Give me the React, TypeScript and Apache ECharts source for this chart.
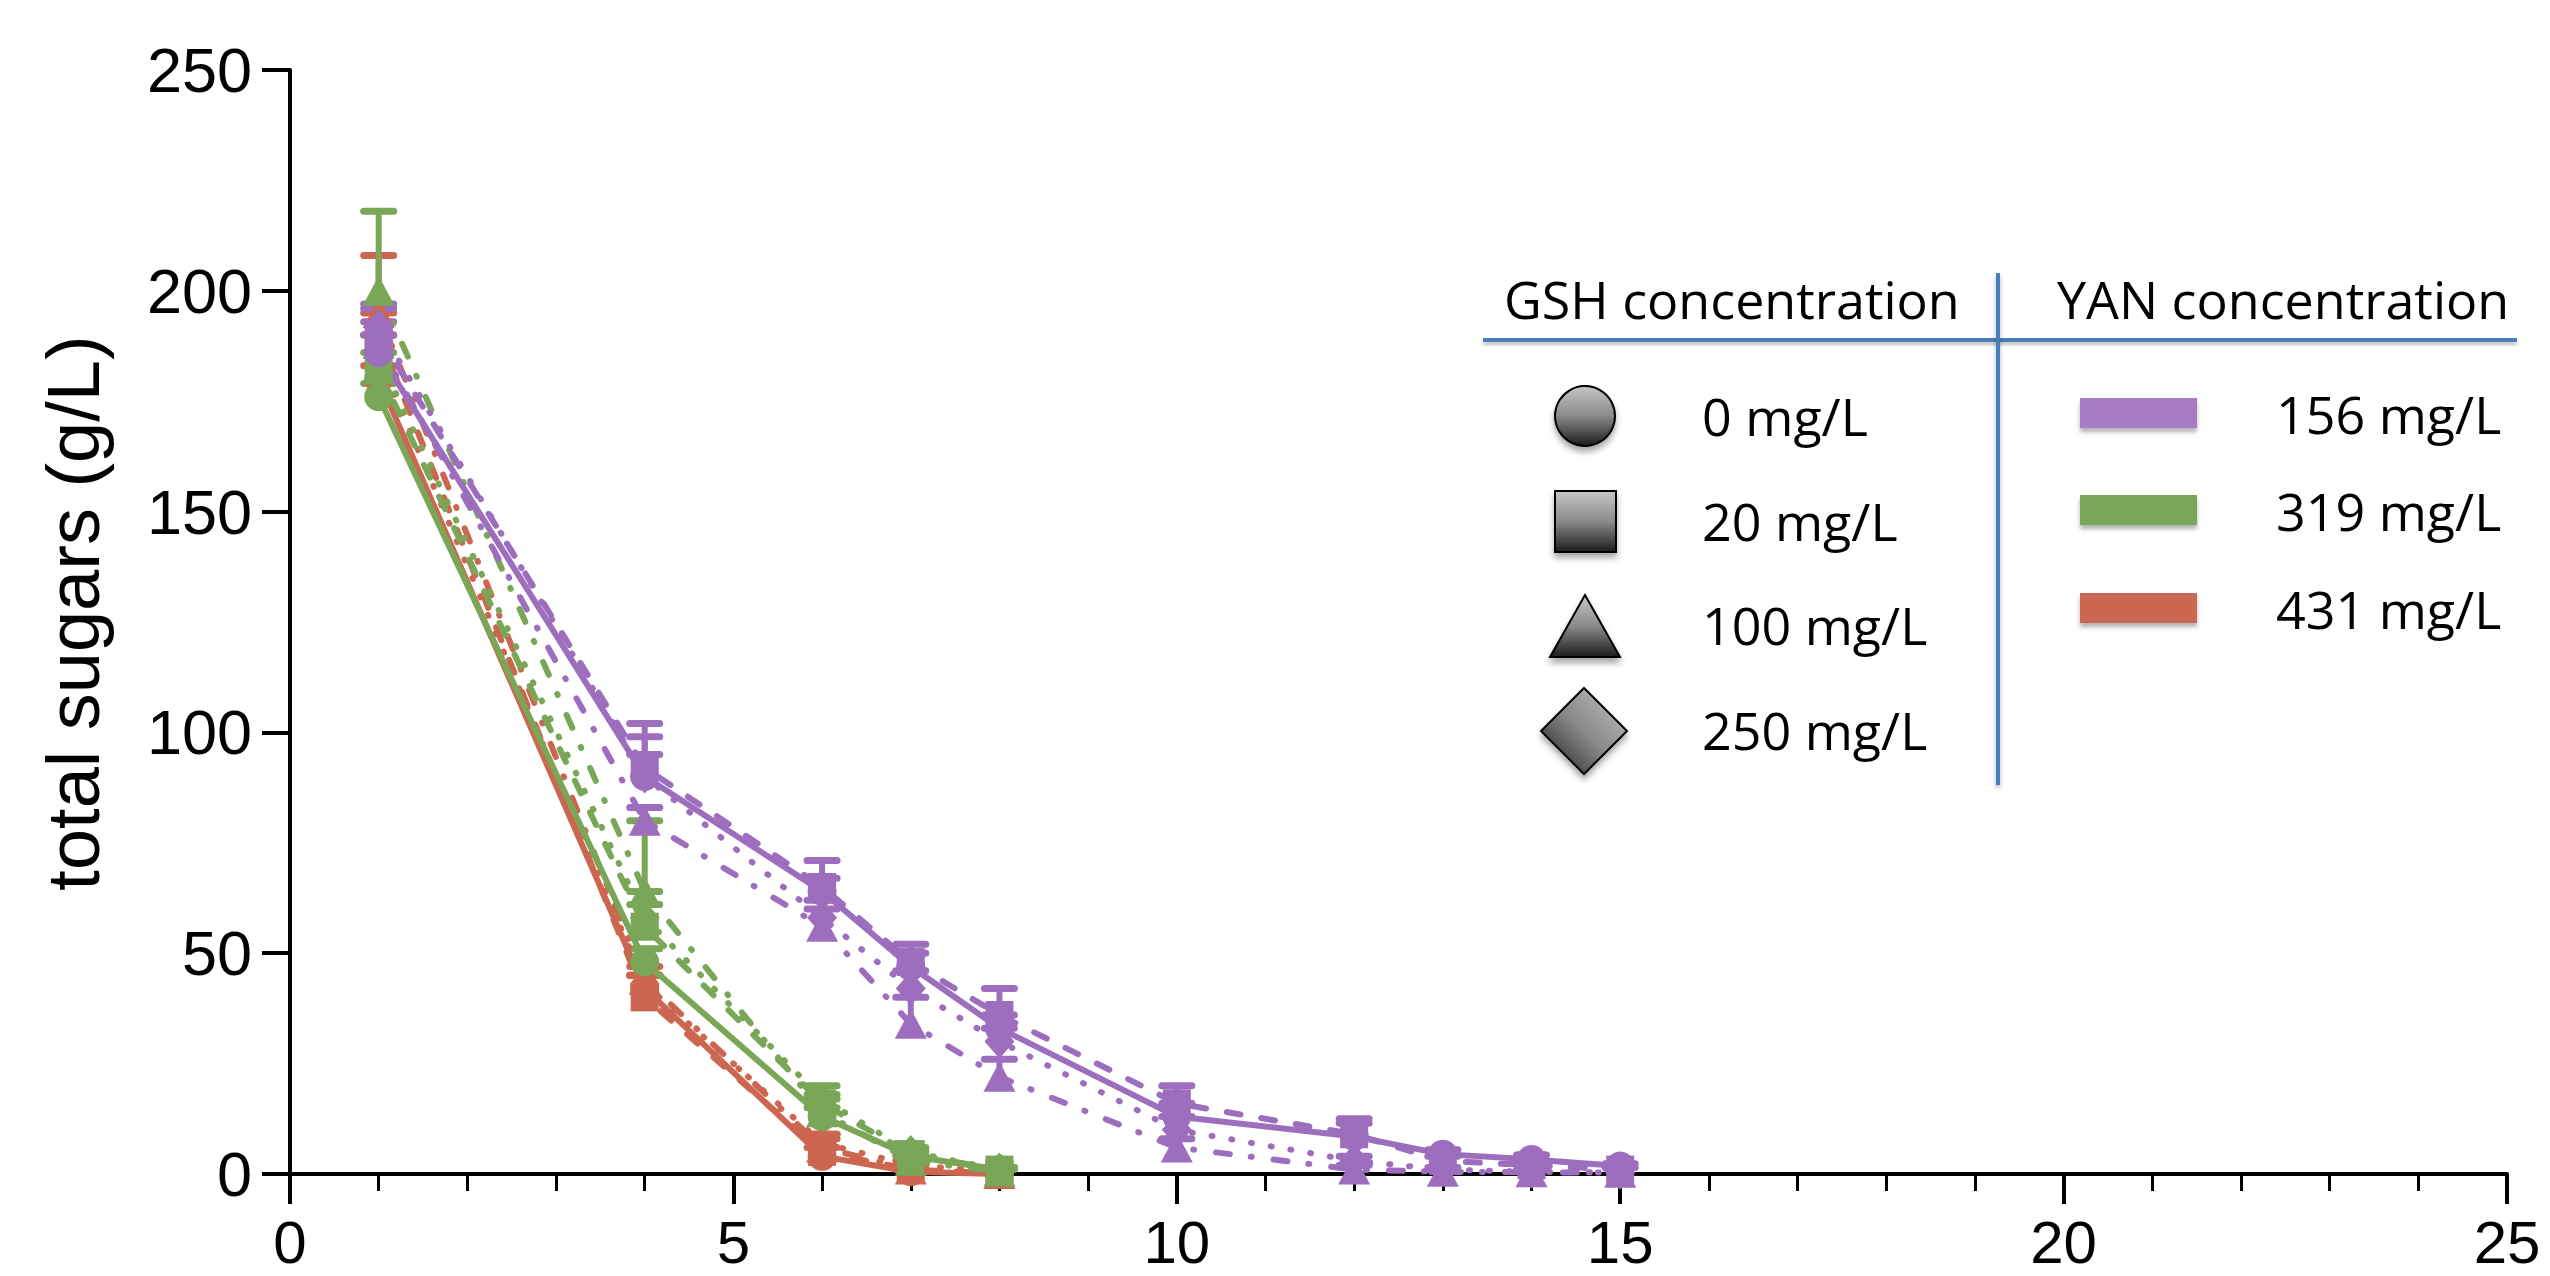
import React, { useEffect, useRef } from "react";
import * as echarts from "echarts";

// ---------- data ----------
const daysLong = [1, 4, 6, 7, 8, 10, 12, 13, 14, 15];
const daysShort = [1, 4, 6, 7, 8];

// YAN 156 mg/L (purple)
const p156_gsh0 = [186, 90, 64, 47, 33, 13, 8.5, 4.5, 3.3, 1.8];
const p156_gsh20 = [190, 92, 65, 48, 36, 16, 9, 3, 2, 1];
const p156_gsh100 = [188, 80, 56, 34, 22, 6, 1, 0.5, 0.4, 0.3];
const p156_gsh250 = [192, 90, 58, 42, 30, 10, 3, 1, 0.5, 0.3];
const e156_gsh0 = [4, 9, 3, 3, 3, 3, 3, 1, 1, 0.5];
const e156_gsh20 = [6, 10, 6, 4, 6, 4, 3.5, 1, 1, 0.5];
const e156_gsh100 = [5, 3, 4, 6, 4, 2, 1, 0.5, 0, 0];
const e156_gsh250 = [5, 5, 4, 4, 3, 3, 1, 0.5, 0.5, 0];

// YAN 319 mg/L (green)
const g319_gsh0 = [176, 48, 13, 4, 1];
const g319_gsh20 = [182, 56, 16, 4.5, 1];
const g319_gsh100 = [200, 64, 14, 3, 0.5];
const g319_gsh250 = [185, 58, 17, 5, 1];
const e319_gsh0 = [3, 3, 2, 1, 0.5];
const e319_gsh20 = [4, 5, 2, 1, 0.5];
const e319_gsh100 = [18, 16, 3, 1, 0.5];
const e319_gsh250 = [5, 6, 3, 1, 0.5];

// YAN 431 mg/L (red)
const r431_gsh0 = [180, 42, 4, 0.5, 0];
const r431_gsh20 = [190, 40, 5, 1, 0];
const r431_gsh100 = [195, 44, 6, 1, 0];
const r431_gsh250 = [185, 43, 7, 2, 0.5];
const e431_gsh0 = [3, 3, 2, 0.5, 0];
const e431_gsh20 = [5, 5, 3, 1, 0];
const e431_gsh100 = [13, 3, 3, 1, 0];
const e431_gsh250 = [5, 2, 2, 1, 0];

const gshLabels = ["0 mg/L", "20 mg/L", "100 mg/L", "250 mg/L"];
const yanLabels = ["156 mg/L", "319 mg/L", "431 mg/L"];
const xTicks = [0, 5, 10, 15, 20, 25];
const yTicks = [0, 50, 100, 150, 200, 250];

// ---------- styles ----------
const PURPLE = "#9D6EBE";
const GREEN = "#79A657";
const RED = "#CC6650";
const LEG_PURPLE = "#A67DC4";
const LEG_GREEN = "#7AA659";
const LEG_RED = "#CC6851";
const BLUE = "#4A7EBB";

const symbols = ["circle", "rect", "triangle", "diamond"];
const symbolSizes: any[] = [29, 28, [32, 30], [30, 34]];
const dashes: any[] = ["solid", [14, 21], [14, 21, 1, 22], [1, 19]];

const groups = [
  { color: RED, days: daysShort, values: [r431_gsh0, r431_gsh20, r431_gsh100, r431_gsh250], errs: [e431_gsh0, e431_gsh20, e431_gsh100, e431_gsh250], yan: yanLabels[2] },
  { color: GREEN, days: daysShort, values: [g319_gsh0, g319_gsh20, g319_gsh100, g319_gsh250], errs: [e319_gsh0, e319_gsh20, e319_gsh100, e319_gsh250], yan: yanLabels[1] },
  { color: PURPLE, days: daysLong, values: [p156_gsh0, p156_gsh20, p156_gsh100, p156_gsh250], errs: [e156_gsh0, e156_gsh20, e156_gsh100, e156_gsh250], yan: yanLabels[0] },
];

function buildSeries() {
  const series: any[] = [];
  groups.forEach((g) => {
    g.values.forEach((vals, k) => {
      const errData = g.days.map((d, i) => [d, vals[i], g.errs[k][i]]);
      series.push({
        type: "custom",
        name: `${g.yan} err ${gshLabels[k]}`,
        data: errData,
        encode: { x: 0, y: 1 },
        silent: true,
        renderItem: (params: any, api: any) => {
          const x = api.value(0);
          const y = api.value(1);
          const e = api.value(2);
          if (!e) return null;
          const base = api.coord([x, y]);
          const top = api.coord([x, y + e]);
          const hw = 15;
          return {
            type: "group",
            children: [
              { type: "line", shape: { x1: base[0], y1: base[1], x2: top[0], y2: top[1] }, style: { stroke: g.color, lineWidth: 6 } },
              { type: "line", shape: { x1: top[0] - hw, y1: top[1], x2: top[0] + hw, y2: top[1] }, style: { stroke: g.color, lineWidth: 7, lineCap: "round" } },
            ],
          };
        },
      });
      series.push({
        type: "line",
        name: `${g.yan} ${gshLabels[k]}`,
        data: g.days.map((d, i) => [d, vals[i]]),
        symbol: symbols[k],
        symbolSize: symbolSizes[k],
        showSymbol: true,
        itemStyle: { color: g.color, opacity: 1 },
        lineStyle: { color: g.color, width: 6, type: dashes[k], cap: "round" },
        silent: true,
      });
    });
  });
  return series;
}

const LEG_FONT = "'Open Sans', 'Noto Sans', sans-serif";

function buildGraphics() {
  const grad = () =>
    new echarts.graphic.LinearGradient(0, 0, 0, 1, [
      { offset: 0, color: "#c6c6c6" },
      { offset: 0.5, color: "#8a8a8a" },
      { offset: 1, color: "#1c1c1c" },
    ]);
  const shapeStyle = () => ({
    fill: grad(),
    stroke: "#000",
    lineWidth: 2,
    shadowBlur: 6,
    shadowOffsetY: 5,
    shadowColor: "rgba(0,0,0,0.35)",
  });
  const els: any[] = [];
  els.push({
    type: "text",
    x: 73,
    y: 613,
    rotation: Math.PI / 2,
    style: { text: "total sugars (g/L)", fontSize: 74, fontFamily: "'Liberation Sans', Arial, sans-serif", fill: "#000", align: "center", verticalAlign: "middle" },
  });
  els.push({ type: "text", x: 1504, y: 298, style: { text: "GSH concentration", fontSize: 52, fontFamily: LEG_FONT, fill: "#000", align: "left", verticalAlign: "middle" } });
  els.push({ type: "text", x: 2057, y: 298, style: { text: "YAN concentration", fontSize: 52, fontFamily: LEG_FONT, fill: "#000", align: "left", verticalAlign: "middle" } });
  const lineShadow = { shadowBlur: 4, shadowOffsetY: 3, shadowColor: "rgba(0,0,0,0.3)" };
  els.push({ type: "rect", shape: { x: 1483, y: 338, width: 1034, height: 4 }, style: { fill: BLUE, ...lineShadow } });
  els.push({ type: "rect", shape: { x: 1996, y: 273, width: 4, height: 512 }, style: { fill: BLUE, ...lineShadow } });

  const gshY = [416, 521, 626, 731];
  els.push({ type: "circle", shape: { cx: 1585, cy: gshY[0], r: 30 }, style: shapeStyle() });
  els.push({ type: "rect", shape: { x: 1555, y: gshY[1] - 30, width: 61, height: 61 }, style: shapeStyle() });
  els.push({ type: "polygon", shape: { points: [[1585, 595], [1620, 657], [1550, 657]] }, style: shapeStyle() });
  els.push({
    type: "polygon",
    shape: { points: [[1584, 688], [1627, 731], [1584, 774], [1541, 731]] },
    style: {
      ...shapeStyle(),
      fill: new echarts.graphic.LinearGradient(1, 0, 0, 1, [
        { offset: 0, color: "#c6c6c6" },
        { offset: 0.5, color: "#8a8a8a" },
        { offset: 1, color: "#1c1c1c" },
      ]),
    },
  });
  const gshTextY = [415, 520, 624, 729];
  gshLabels.forEach((t, i) => {
    els.push({ type: "text", x: 1702, y: gshTextY[i], style: { text: t, fontSize: 52, fontFamily: LEG_FONT, fill: "#000", align: "left", verticalAlign: "middle" } });
  });
  const yanY = [413, 510, 608];
  const yanCols = [LEG_PURPLE, LEG_GREEN, LEG_RED];
  yanLabels.forEach((t, i) => {
    els.push({
      type: "rect",
      shape: { x: 2080, y: yanY[i] - 15, width: 117, height: 30 },
      style: { fill: yanCols[i], shadowBlur: 4, shadowOffsetY: 4, shadowColor: "rgba(0,0,0,0.3)" },
    });
    els.push({ type: "text", x: 2276, y: yanY[i], style: { text: t, fontSize: 52, fontFamily: LEG_FONT, fill: "#000", align: "left", verticalAlign: "middle" } });
  });
  return els;
}

export default function App() {
  const ref = useRef<HTMLDivElement>(null);
  useEffect(() => {
    if (!ref.current) return;
    const chart = echarts.init(ref.current, null, { renderer: "svg" });
    const axisFont = "'Liberation Sans', Arial, sans-serif";
    chart.setOption({
      animation: false,
      backgroundColor: "#fff",
      grid: { left: 290, top: 70, width: 2217, height: 1104, containLabel: false },
      xAxis: {
        type: "value",
        min: xTicks[0],
        max: xTicks[xTicks.length - 1],
        interval: 5,
        axisLine: { show: true, onZero: false, lineStyle: { color: "#000", width: 4 } },
        axisTick: { show: true, length: 30, lineStyle: { color: "#000", width: 4 } },
        minorTick: { show: true, splitNumber: 5, length: 17, lineStyle: { color: "#000", width: 3 } },
        axisLabel: { fontSize: 60, lineHeight: 46, fontFamily: axisFont, color: "#000", margin: 45 },
        splitLine: { show: false },
        minorSplitLine: { show: false },
      },
      yAxis: {
        type: "value",
        min: yTicks[0],
        max: yTicks[yTicks.length - 1],
        interval: 50,
        axisLine: { show: true, onZero: false, lineStyle: { color: "#000", width: 4 } },
        axisTick: { show: true, length: 28, lineStyle: { color: "#000", width: 4 } },
        axisLabel: { fontSize: 63, fontFamily: axisFont, color: "#000", margin: 38 },
        splitLine: { show: false },
      },
      series: buildSeries(),
      graphic: buildGraphics(),
    });
    return () => chart.dispose();
  }, []);
  return <div ref={ref} style={{ position: "fixed", left: 0, top: 0, width: 2550, height: 1276 }} />;
}
